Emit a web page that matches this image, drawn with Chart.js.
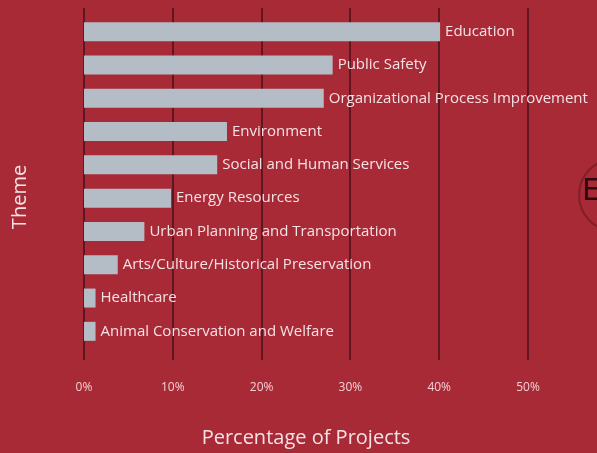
<!DOCTYPE html>
<html>
<head>
<meta charset="utf-8">
<script src="https://cdn.jsdelivr.net/npm/chart.js@4"></script>
<style>
  html, body { margin: 0; padding: 0; background: #a92a37; }
  #wrap { width: 597px; height: 453px; }
</style>
</head>
<body>
<div id="wrap"><canvas id="themeChart"></canvas></div>
<script>
// Chart data
const themes = [
  "Education",
  "Public Safety",
  "Organizational Process Improvement",
  "Environment",
  "Social and Human Services",
  "Energy Resources",
  "Urban Planning and Transportation",
  "Arts/Culture/Historical Preservation",
  "Healthcare",
  "Animal Conservation and Welfare"
];
const percentOfProjects = [40.1, 28.0, 27.0, 16.1, 15.0, 9.8, 6.8, 3.8, 1.3, 1.3];
const xTicks = [0, 10, 20, 30, 40, 50];

const textColor = "#f4e2e4";
const gridColor = "#5e1620";

// Gridlines that run a bit past the bars, like the original slide
const gridPlugin = {
  id: "extendedGrid",
  beforeDatasetsDraw(chart) {
    const { ctx, chartArea, scales } = chart;
    ctx.save();
    ctx.strokeStyle = gridColor;
    ctx.lineWidth = 2;
    xTicks.forEach(v => {
      const x = Math.round(scales.x.getPixelForValue(v));
      ctx.beginPath();
      ctx.moveTo(x, chartArea.top - 7);
      ctx.lineTo(x, chartArea.bottom + 12);
      ctx.stroke();
    });
    ctx.restore();
  }
};

// Category names written after the end of each bar
const barLabelPlugin = {
  id: "barLabels",
  afterDatasetsDraw(chart) {
    const { ctx } = chart;
    const meta = chart.getDatasetMeta(0);
    ctx.save();
    ctx.font = "15px 'Open Sans'";
    ctx.fillStyle = textColor;
    ctx.textBaseline = "middle";
    meta.data.forEach((bar, i) => {
      ctx.fillText(themes[i], bar.x + 5, bar.y);
    });
    ctx.restore();
  }
};

// Y axis title, sitting a little below the middle as in the slide
const themeTitlePlugin = {
  id: "themeTitle",
  afterDraw(chart) {
    const { ctx } = chart;
    ctx.save();
    ctx.translate(20, 197);
    ctx.rotate(-Math.PI / 2);
    ctx.font = "20px 'Open Sans'";
    ctx.fillStyle = textColor;
    ctx.textAlign = "center";
    ctx.textBaseline = "middle";
    ctx.fillText("Theme", 0, 0);
    ctx.restore();
  }
};

// Faint logo peeking in at the right edge
const logoPlugin = {
  id: "logo",
  afterDraw(chart) {
    const { ctx } = chart;
    ctx.save();
    ctx.strokeStyle = "rgba(70, 15, 20, 0.4)";
    ctx.lineWidth = 2;
    ctx.beginPath();
    ctx.arc(615, 195, 36, 0, Math.PI * 2);
    ctx.stroke();
    ctx.fillStyle = "rgba(25, 5, 8, 0.85)";
    ctx.font = "30px 'DejaVu Sans'";
    ctx.textBaseline = "middle";
    ctx.fillText("E", 582, 192);
    ctx.restore();
  }
};

new Chart(document.getElementById("themeChart"), {
  type: "bar",
  data: {
    labels: themes,
    datasets: [{
      data: percentOfProjects,
      backgroundColor: "#b4bdc5",
      borderWidth: 0,
      barPercentage: 0.57,
      categoryPercentage: 1
    }]
  },
  options: {
    indexAxis: "y",
    responsive: true,
    maintainAspectRatio: false,
    animation: false,
    layout: { padding: { top: 15, right: 69, left: 0, bottom: 0 } },
    plugins: {
      legend: { display: false },
      tooltip: { enabled: false }
    },
    scales: {
      x: {
        min: 0,
        max: 50,
        afterBuildTicks: s => { s.ticks = xTicks.map(v => ({ value: v })); },
        afterFit: s => { s.height = 105; },
        grid: { display: false, drawTicks: false },
        border: { display: false },
        ticks: {
          color: "#f2cfd3",
          font: { family: "Open Sans", size: 12 },
          padding: 32,
          callback: v => v + "%"
        },
        title: {
          display: true,
          text: "Percentage of Projects",
          color: textColor,
          font: { family: "Open Sans", size: 20 },
          padding: { top: 4, bottom: 3 }
        }
      },
      y: {
        afterFit: s => { s.width = 84; },
        grid: { display: false, drawTicks: false },
        border: { display: false },
        ticks: { display: false }
      }
    }
  },
  plugins: [gridPlugin, barLabelPlugin, themeTitlePlugin, logoPlugin]
});
</script>
</body>
</html>
